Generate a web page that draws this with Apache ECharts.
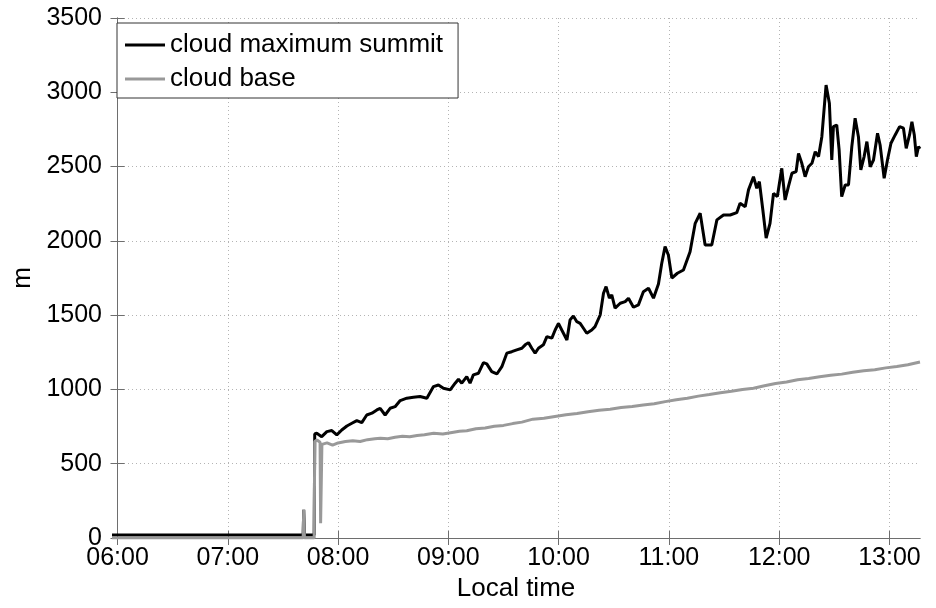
<!DOCTYPE html>
<html>
<head>
<meta charset="utf-8">
<script src="https://cdn.jsdelivr.net/npm/echarts@6/dist/echarts.min.js"></script>
<style>
html,body{margin:0;padding:0;background:#fff;}
#chart{width:936px;height:608px;}
</style>
</head>
<body>
<div id="chart"></div>
<script>
// minutes after 06:00 local time
var tickValues = [0, 60, 120, 180, 240, 300, 360, 420];
var tickLabels = ['06:00', '07:00', '08:00', '09:00', '10:00', '11:00', '12:00', '13:00'];

var summitTimes = [-3, 101.0, 101.3, 101.7, 107.0, 107.3, 108.4, 111.1, 113.9, 116.6, 119.3, 122.0, 124.8, 127.5, 130.2, 132.9, 135.6, 138.4, 141.1, 142.9, 145.6, 148.3, 151.0, 153.8, 157.4, 161.0, 164.6, 168.3, 171.9, 174.6, 177.3, 181.0, 183.7, 185.5, 187.3, 190.0, 191.8, 193.6, 196.4, 199.1, 200.9, 203.6, 206.4, 209.1, 211.8, 214.5, 217.2, 220.0, 221.8, 223.6, 225.4, 227.2, 229.0, 231.7, 233.6, 236.3, 238.1, 239.9, 241.7, 244.5, 246.2, 248.0, 249.9, 251.7, 253.5, 255.3, 258.0, 259.8, 262.6, 264.4, 265.8, 267.6, 268.9, 270.7, 273.5, 276.2, 278.0, 280.7, 283.4, 286.1, 288.9, 291.6, 294.3, 296.1, 297.9, 299.7, 301.6, 304.6, 307.9, 311.5, 314.3, 317.0, 319.7, 323.3, 326.1, 329.7, 333.3, 336.9, 338.7, 341.5, 343.3, 346.0, 347.8, 349.2, 351.1, 352.9, 355.0, 356.9, 359.0, 361.4, 363.2, 365.0, 366.9, 369.2, 370.5, 372.3, 374.1, 375.9, 377.8, 379.6, 381.4, 383.2, 385.5, 387.3, 388.6, 389.5, 391.3, 392.6, 394.0, 395.9, 397.7, 399.5, 401.3, 403.1, 404.4, 406.2, 407.7, 409.5, 411.3, 413.5, 414.9, 417.1, 418.9, 420.8, 423.1, 425.5, 427.6, 429.1, 430.9, 432.2, 433.5, 434.6, 435.8, 436.6];
var summitValues = [20, 20, 190, 20, 20, 700, 705, 682, 716, 723, 694, 727, 754, 772, 790, 777, 828, 840, 862, 873, 828, 873, 884, 925, 941, 947, 952, 941, 1019, 1030, 1008, 997, 1042, 1069, 1042, 1086, 1042, 1098, 1109, 1180, 1172, 1120, 1104, 1153, 1244, 1254, 1266, 1277, 1300, 1315, 1277, 1244, 1277, 1300, 1355, 1345, 1400, 1445, 1400, 1333, 1468, 1494, 1456, 1445, 1412, 1378, 1400, 1423, 1501, 1647, 1692, 1614, 1636, 1547, 1580, 1591, 1614, 1553, 1569, 1658, 1681, 1614, 1710, 1849, 1961, 1905, 1750, 1782, 1804, 1927, 2118, 2186, 1972, 1972, 2141, 2174, 2174, 2190, 2253, 2230, 2343, 2432, 2354, 2399, 2208, 2018, 2118, 2320, 2298, 2488, 2275, 2365, 2455, 2466, 2589, 2522, 2432, 2499, 2522, 2600, 2567, 2701, 3049, 2926, 2544, 2769, 2780, 2612, 2298, 2376, 2376, 2634, 2825, 2701, 2477, 2567, 2668, 2499, 2544, 2724, 2645, 2421, 2544, 2657, 2713, 2769, 2758, 2623, 2713, 2802, 2713, 2567, 2634, 2620];

var baseTimes = [-3, 101.0, 101.3, 101.7, 107.0, 107.3, 108.5, 110.2, 110.5, 110.9, 111.2, 114, 117, 120, 124, 128, 132, 136, 140, 143, 147, 151, 155, 159, 163, 167, 172, 177, 182, 186, 190, 195, 200, 205, 210, 215, 220, 226, 232, 238, 244, 250, 256, 262, 268, 274, 280, 286, 292, 298, 304, 310, 316, 322, 328, 334, 340, 346, 352, 358, 364, 370, 376, 382, 388, 394, 400, 406, 412, 418, 424, 430, 436.6];
var baseValues = [0, 0, 190, 0, 0, 650, 660, 645, 100, 100, 630, 640, 625, 640, 649, 655, 650, 662, 668, 672, 668, 678, 685, 682, 690, 695, 705, 700, 710, 718, 722, 735, 740, 752, 758, 770, 780, 800, 806, 818, 830, 838, 850, 860, 866, 878, 885, 895, 903, 918, 930, 940, 955, 966, 978, 988, 1000, 1008, 1025, 1040, 1050, 1065, 1073, 1085, 1095, 1103, 1115, 1125, 1133, 1145, 1155, 1166, 1185];

function pairs(ts, vs) {
  var out = [];
  for (var i = 0; i < ts.length; i++) out.push([ts[i], vs[i]]);
  return out;
}

var FONT = 'Liberation Sans, Arial, Helvetica, sans-serif';
var frameColor = '#6e6e6e';
var chart = echarts.init(document.getElementById('chart'), null, {renderer: 'canvas'});

var xTickCommon = {
  show: true, inside: true, length: 7,
  customValues: tickValues,
  lineStyle: {color: frameColor, width: 1}
};

chart.setOption({
  animation: false,
  backgroundColor: '#fff',
  grid: {left: 112, right: 16, top: 18, bottom: 70, containLabel: false, outerBoundsMode: 'none'},
  legend: {
    left: 117, top: 23,
    orient: 'vertical',
    backgroundColor: '#fff',
    borderColor: '#333',
    borderWidth: 1,
    borderRadius: 0,
    padding: [9, 15, 6, 8],
    itemGap: 8,
    itemWidth: 40,
    itemHeight: 3,
    icon: 'rect',
    textStyle: {fontSize: 26, color: '#000', fontFamily: FONT},
    data: ['cloud maximum summit', 'cloud base']
  },
  xAxis: [{
    type: 'value',
    min: -3, max: 436.6,
    name: 'Local time',
    nameLocation: 'middle',
    nameGap: 38,
    nameTextStyle: {fontSize: 26, color: '#000', fontFamily: FONT},
    axisLine: {show: true, lineStyle: {color: frameColor, width: 1}},
    axisTick: xTickCommon,
    axisLabel: {
      show: true, customValues: tickValues, margin: 8,
      fontSize: 25, color: '#000', fontFamily: FONT,
      formatter: function (v) { var i = tickValues.indexOf(v); return i >= 0 ? tickLabels[i] : ''; }
    },
    splitLine: {show: true, lineStyle: {color: '#b4b4b4', type: [1, 3], width: 1}}
  }, {
    type: 'value', position: 'top',
    min: -3, max: 436.6,
    axisLine: {show: true, lineStyle: {color: frameColor, width: 1}},
    axisTick: xTickCommon,
    axisLabel: {show: false},
    splitLine: {show: false}
  }],
  yAxis: [{
    type: 'value',
    min: 0, max: 3500, interval: 500,
    name: 'm',
    nameLocation: 'middle',
    nameGap: 72,
    nameRotate: 90,
    nameTextStyle: {fontSize: 26, color: '#000', fontFamily: FONT},
    axisLine: {show: true, lineStyle: {color: frameColor, width: 1}},
    axisTick: {show: true, inside: true, length: 7, lineStyle: {color: frameColor}},
    axisLabel: {margin: 10, fontSize: 25, color: '#000', fontFamily: FONT,
      formatter: function (v) { return String(v); }},
    splitLine: {show: true, lineStyle: {color: '#b4b4b4', type: [1, 3], width: 1}}
  }, {
    type: 'value', position: 'right',
    min: 0, max: 3500, interval: 500,
    axisLine: {show: true, lineStyle: {color: frameColor, width: 1}},
    axisTick: {show: true, inside: true, length: 7, lineStyle: {color: frameColor}},
    axisLabel: {show: false},
    splitLine: {show: false}
  }],
  series: [{
    name: 'cloud maximum summit',
    type: 'line',
    xAxisIndex: 0, yAxisIndex: 0,
    showSymbol: false, symbol: 'none',
    color: '#000',
    lineStyle: {color: '#000', width: 3},
    z: 3,
    data: pairs(summitTimes, summitValues)
  }, {
    name: 'cloud base',
    type: 'line',
    xAxisIndex: 0, yAxisIndex: 0,
    showSymbol: false, symbol: 'none',
    color: '#999',
    lineStyle: {color: '#999', width: 3},
    z: 4,
    data: pairs(baseTimes, baseValues)
  }]
});
</script>
</body>
</html>
